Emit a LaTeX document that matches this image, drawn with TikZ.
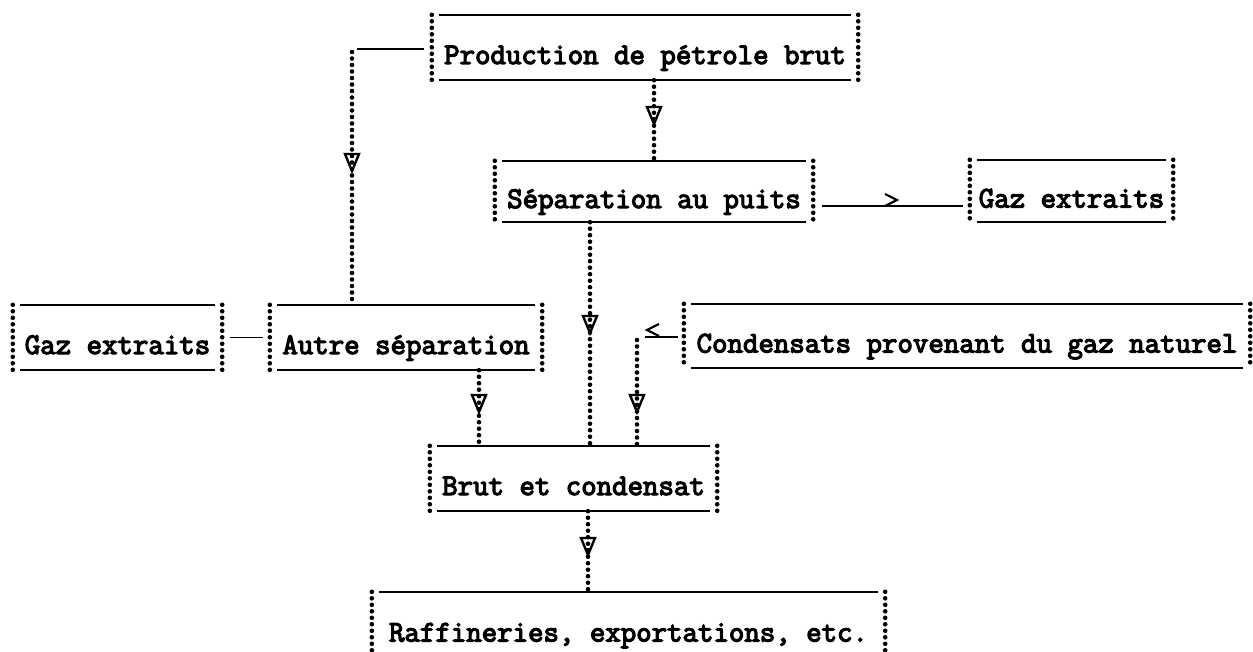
\documentclass[tikz,border=0pt]{standalone}
\usepackage{fontspec}
\usetikzlibrary{decorations.markings}
\newfontfamily\tw[FakeBold=4]{Latin Modern Mono}
\begin{document}
\begin{tikzpicture}[x=1pt,y=-1pt,
  tbox/.style={inner sep=0pt, text height=35pt, text depth=2pt, font=\tw\fontsize{30}{34}\selectfont},
  hline/.style={line width=1.9pt},
  sline/.style={line width=1.4pt},
  dline/.style={postaction={decorate}, decoration={markings,
     mark=between positions 0 and 1 step 6.5pt with {\fill[black] (0,0) circle (2.3pt);}}},
  vtip/.style={line width=2.4pt, line join=miter},
  chev/.style={line width=2.2pt},
  vv/.pic={\draw[vtip] (-7,0) -- (7,0) -- (0,17) -- cycle;}]
\fill[white] (0,0) rectangle (1253,652);
\useasboundingbox (0,0) rectangle (1253,652);

% boxes
\node[tbox, minimum width=426pt, minimum height=65pt] (prod)  at (645,47.5)   {Production de pétrole brut};
\node[tbox, minimum width=318pt, minimum height=61pt] (sep)   at (654,191.5)  {Séparation au puits};
\node[tbox, minimum width=203pt, minimum height=62pt] (gazr)  at (1071.5,191) {Gaz extraits};
\node[tbox, minimum width=209pt, minimum height=65pt] (gazl)  at (117.5,337.5){Gaz extraits};
\node[tbox, minimum width=272pt, minimum height=65pt] (autre) at (406,337.5)  {Autre séparation};
\node[tbox, minimum width=566pt, minimum height=64pt] (cond)  at (967,336)    {Condensats provenant du gaz naturel};
\node[tbox, minimum width=287pt, minimum height=65pt] (brut)  at (573.5,478.5){Brut et condensat};
\node[tbox, minimum width=513pt, minimum height=66pt] (raff)  at (628.5,625)  {Raffineries, exportations, etc.};

% frames
\foreach \n in {prod,sep,gazr,gazl,autre,cond,brut} {
  \draw[hline] ([xshift=7pt]\n.north west) -- ([xshift=-7pt]\n.north east);
  \draw[hline] ([xshift=7pt]\n.south west) -- ([xshift=-7pt]\n.south east);
  \path[dline] (\n.north west) -- (\n.south west);
  \path[dline] (\n.north east) -- (\n.south east);
}
\coordinate (kb) at (0,652);
\draw[hline] ([xshift=7pt]raff.north west) -- ([xshift=-7pt]raff.north east);
\path[dline] (raff.north west) -- (raff.north west |- kb);
\path[dline] (raff.north east) -- (raff.north east |- kb);

% prod -> autre
\coordinate (k1) at (352,49);
\coordinate (k1b) at (352,52);
\draw[sline] ([xshift=-8pt]prod.west |- k1) -- ([xshift=5pt]k1);
\path[dline] (k1b) -- (k1b |- autre.north);
\pic at (352,154) {vv};

% prod -> sep
\path[dline] (sep.north |- prod.south) -- (sep.north);
\pic at (654,107) {vv};

% sep -> gazr
\coordinate (k2) at (0,206);
\draw[sline] ([xshift=9pt]sep.east |- k2) -- ([xshift=-7pt]gazr.west |- k2);
\draw[chev] (885,194) -- (897,200) -- (885,206);

% sep -> brut
\coordinate (k3) at (590,0);
\path[dline] (sep.south -| k3) -- (brut.north -| k3);
\pic at (590,316) {vv};

% autre -> gazl
\draw[sline] ([xshift=8pt]gazl.east) -- ([xshift=-7pt]autre.west);

% autre -> brut
\coordinate (k4) at (479,0);
\path[dline] (autre.south -| k4) -- (brut.north -| k4);
\pic at (479,395) {vv};

% cond -> brut
\coordinate (k5) at (637,337);
\coordinate (k5b) at (637,340);
\draw[sline] ([xshift=-6pt]cond.west |- k5) -- ([xshift=8pt]k5);
\draw[chev] (659,324) -- (647,330) -- (659,336);
\path[dline] (k5b) -- (brut.north -| k5b);
\pic at (637,395) {vv};

% brut -> raff
\coordinate (k6) at (588,0);
\path[dline] (brut.south -| k6) -- (raff.north -| k6);
\pic at (588,538) {vv};
\end{tikzpicture}
\end{document}
